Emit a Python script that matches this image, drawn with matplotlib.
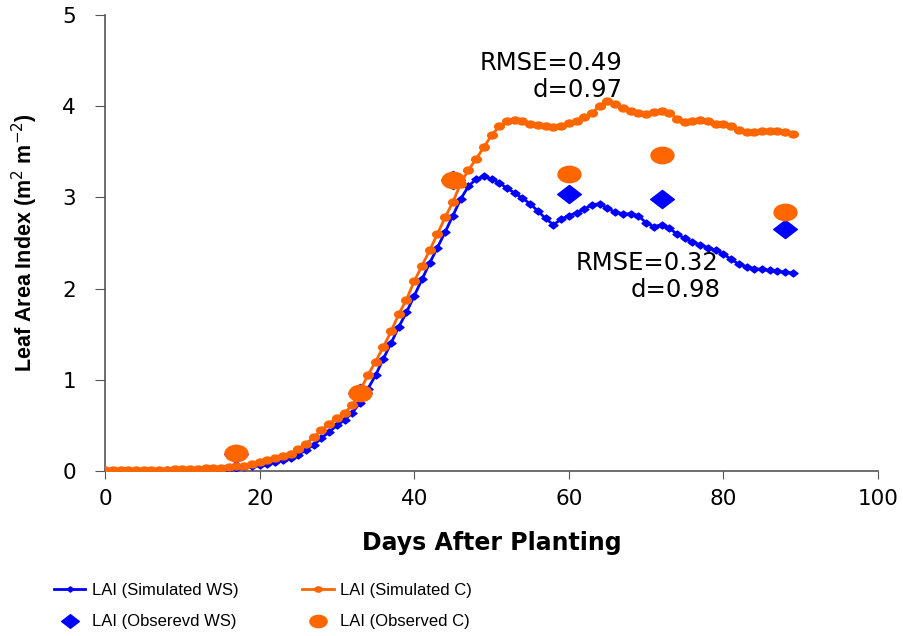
import numpy as np
import matplotlib
matplotlib.use("Agg")
import matplotlib.pyplot as plt
from matplotlib.path import Path
from matplotlib.transforms import Affine2D

# Simulated LAI, one value per day after planting (0..89)
days = list(range(90))

sim_ws = [0.00, 0.00, 0.00, 0.00, 0.00, 0.00, 0.00, 0.00, 0.01, 0.01,
          0.01, 0.01, 0.01, 0.01, 0.02, 0.02, 0.02, 0.03, 0.04, 0.05,
          0.07, 0.08, 0.10, 0.12, 0.14, 0.18, 0.23, 0.29, 0.36, 0.43,
          0.50, 0.56, 0.64, 0.75, 0.90, 1.05, 1.23, 1.40, 1.58, 1.74,
          1.92, 2.10, 2.28, 2.45, 2.62, 2.80, 2.98, 3.12, 3.20, 3.23,
          3.20, 3.16, 3.10, 3.05, 2.99, 2.93, 2.85, 2.77, 2.70, 2.76,
          2.80, 2.83, 2.87, 2.92, 2.93, 2.88, 2.84, 2.82, 2.82, 2.80,
          2.72, 2.68, 2.70, 2.66, 2.60, 2.55, 2.51, 2.48, 2.45, 2.42,
          2.38, 2.32, 2.27, 2.24, 2.22, 2.21, 2.20, 2.19, 2.18, 2.17]

sim_c = [0.01, 0.01, 0.01, 0.01, 0.01, 0.01, 0.01, 0.01, 0.01, 0.02,
         0.02, 0.02, 0.02, 0.03, 0.03, 0.03, 0.04, 0.05, 0.06, 0.08,
         0.10, 0.12, 0.14, 0.16, 0.19, 0.24, 0.30, 0.37, 0.45, 0.52,
         0.58, 0.64, 0.72, 0.88, 1.05, 1.20, 1.36, 1.53, 1.72, 1.88,
         2.08, 2.25, 2.42, 2.60, 2.78, 2.95, 3.15, 3.30, 3.42, 3.55,
         3.68, 3.78, 3.84, 3.85, 3.84, 3.80, 3.79, 3.78, 3.77, 3.78,
         3.82, 3.84, 3.88, 3.93, 4.00, 4.06, 4.02, 3.98, 3.95, 3.93,
         3.92, 3.94, 3.95, 3.93, 3.86, 3.83, 3.84, 3.85, 3.84, 3.81,
         3.80, 3.78, 3.74, 3.72, 3.72, 3.73, 3.73, 3.73, 3.72, 3.70]

# Observations
obs_days = [17, 33, 45, 60, 72, 88]
obs_ws = [0.19, 0.86, 3.19, 3.04, 2.98, 2.65]
obs_c = [0.20, 0.86, 3.19, 3.26, 3.47, 2.84]

blue = "#0000FF"
orange = "#FF6600"

# the original picture is stretched sideways, so use wide markers
ellipse = Path.unit_circle().transformed(Affine2D().scale(1.4, 1.0))
diamond = Path([(0, 1), (1.3, 0), (0, -1), (-1.3, 0), (0, 1)],
               [Path.MOVETO, Path.LINETO, Path.LINETO, Path.LINETO, Path.CLOSEPOLY])

plt.rcParams['font.family'] = ['Liberation Sans', 'DejaVu Sans']

fig = plt.figure(figsize=(9.04, 6.36), dpi=100)
ax = fig.add_axes([0.1162, 0.2594, 0.855, 0.717])

ax.plot(obs_days, obs_ws, ls='none', marker=diamond, ms=17, color=blue,
        label='LAI (Obserevd WS)', zorder=2)
ax.plot(days, sim_ws, color=blue, lw=2, marker=diamond, ms=6.5, mec=blue,
        label='LAI (Simulated WS)', zorder=3)
ax.plot(days, sim_c, color=orange, lw=2, marker=ellipse, ms=7, mec=orange,
        label='LAI (Simulated C)', zorder=4)
ax.plot(obs_days, obs_c, ls='none', marker=ellipse, ms=16.5, color=orange,
        label='LAI (Observed C)', zorder=6)

ax.set_xlim(0, 100)
ax.set_ylim(0, 5)
ax.set_xticks([0, 20, 40, 60, 80, 100])
ax.set_yticks([0, 1, 2, 3, 4, 5])
for s in ['top', 'right']:
    ax.spines[s].set_visible(False)
for s in ['left', 'bottom']:
    ax.spines[s].set_color('#555555')
    ax.spines[s].set_linewidth(1.2)
ax.tick_params(axis='x', direction='out', length=6, color='#555555', pad=7)
ax.tick_params(axis='y', direction='out', length=7, color='#555555', pad=14)
for lab in ax.get_xticklabels() + ax.get_yticklabels():
    lab.set_family('DejaVu Sans')
    lab.set_fontsize(15.5)

ax.set_xlabel('Days After Planting', fontsize=17, fontweight='bold',
              family='DejaVu Sans', labelpad=16)
ax.set_ylabel('Leaf Area Index (m$^{2}$ m$^{-2}$)', fontsize=15.5,
              fontweight='bold', labelpad=16)

ax.text(67.0, 4.47, 'RMSE=0.49', ha='right', va='center', fontsize=17.5,
        family='DejaVu Sans')
ax.text(67.0, 4.18, 'd=0.97', ha='right', va='center', fontsize=17.5,
        family='DejaVu Sans')
ax.text(79.4, 2.28, 'RMSE=0.32', ha='right', va='center', fontsize=17.5,
        family='DejaVu Sans')
ax.text(79.6, 1.98, 'd=0.98', ha='right', va='center', fontsize=17.5,
        family='DejaVu Sans')

h, l = ax.get_legend_handles_labels()
# column-wise order: simulated WS, observed WS | simulated C, observed C
order = [1, 0, 2, 3]
fig.legend([h[i] for i in order], [l[i] for i in order],
           loc='center', bbox_to_anchor=(0.291, 0.047), ncol=2,
           frameon=False, fontsize=12, columnspacing=3.8,
           handlelength=1.9, handletextpad=0.4, labelspacing=1.0,
           markerscale=0.75)

fig.savefig('out.png', dpi=100)
